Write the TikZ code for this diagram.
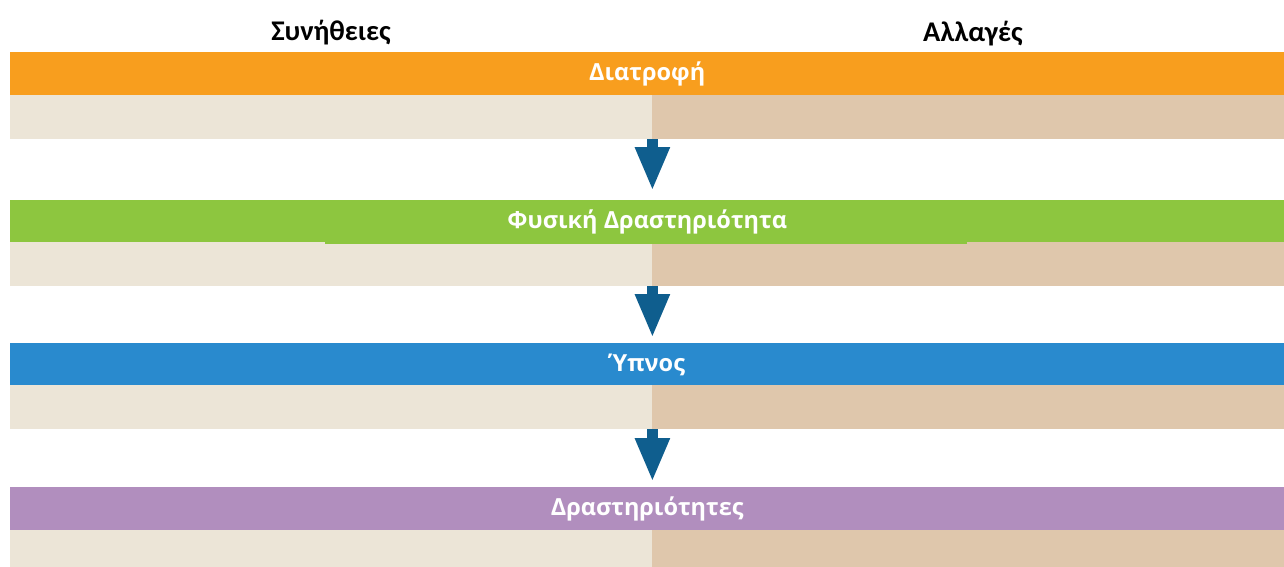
\documentclass[tikz,border=0pt]{standalone}
\usepackage{fontspec}
\setmainfont{Open Sans}
\newfontfamily\headfont{Carlito}
\usetikzlibrary{arrows.meta}
\definecolor{diatrofi}{RGB}{248,158,30}
\definecolor{kinisi}{RGB}{141,198,63}
\definecolor{ypnos}{RGB}{41,138,206}
\definecolor{drasi}{RGB}{177,142,190}
\definecolor{habitbg}{RGB}{236,229,215}
\definecolor{changebg}{RGB}{223,199,172}
\definecolor{arrowblue}{RGB}{15,94,142}
\begin{document}
\begin{tikzpicture}[x=1pt,y=-1pt,
    header/.style={anchor=base,font=\headfont\bfseries\fontsize{28.5}{28.5}\selectfont},
    titlebar/.style={anchor=north west,inner sep=0pt,minimum width=1274pt,text height=19pt,text depth=5pt,text=white,font=\bfseries\fontsize{23.5}{23.5}\selectfont},
    habitcell/.style={anchor=north west,inner sep=0pt,minimum width=642pt,minimum height=44pt,fill=habitbg},
    changecell/.style={anchor=north west,inner sep=0pt,minimum width=632pt,minimum height=44pt,fill=changebg},
    flowarrow/.style={draw=arrowblue,line width=11pt,-{Triangle[width=32pt,length=44pt]}}]
  \useasboundingbox (0,0) rectangle (1284,566);
  \node[header] (habits) at (331,40) {Συνήθειες};
  \node[header] (changes) at (973,41) {Αλλαγές};
  \foreach \i/\y/\b/\c/\t in {1/52/95/diatrofi/Διατροφή,2/200/242/kinisi/Φυσική Δραστηριότητα,3/343/385/ypnos/Ύπνος,4/487/530/drasi/Δραστηριότητες}{
    \node[titlebar,fill=\c,minimum height=\b pt-\y pt] (title\i) at (10,\y) {\t};
    \node[habitcell] (habit\i) at (10,\b) {};
    \node[changecell] (change\i) at (652,\b) {};
  }
  \fill[kinisi] (325,242) rectangle (967,244);
  \foreach \i/\j/\g in {1/2/9,2/3/5,3/4/5}
    \draw[flowarrow,shorten >=\g pt] (habit\i.south east) -- (habit\i.south east |- title\j.north);
\end{tikzpicture}
\end{document}
